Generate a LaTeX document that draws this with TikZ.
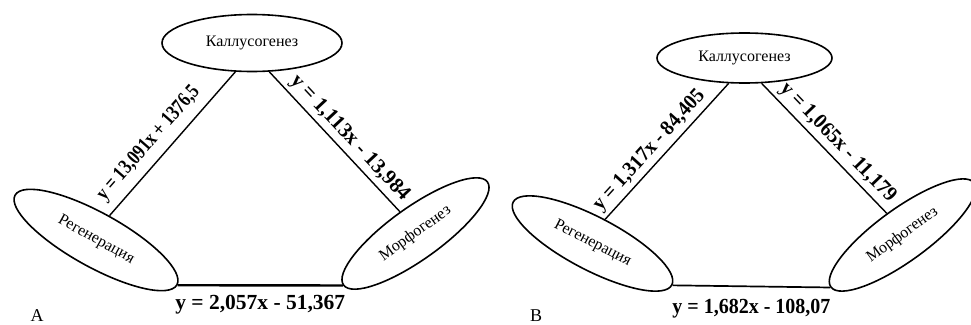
\documentclass[tikz,border=0pt]{standalone}
\usepackage{fontspec}
\setmainfont{Liberation Serif}
\usetikzlibrary{shapes.geometric}
\begin{document}
\begin{tikzpicture}[x=1pt,y=-1pt,
  oval/.style={ellipse, draw, line width=1.6pt, inner sep=0pt, font=\fontsize{16}{16}\selectfont},
  link/.style={line width=1.4pt},
  base/.style={line width=2.4pt},
  eq/.style={font=\bfseries\fontsize{21}{21}\selectfont, inner sep=1pt, sloped, above=2.5pt},
  beq/.style={font=\bfseries\fontsize{21.5}{21.5}\selectfont, inner sep=1pt},
  panel/.style={font=\fontsize{18}{18}\selectfont, inner sep=0pt}
]
\useasboundingbox (0,0) rectangle (971,324);
% Panel A
\node[oval, minimum width=180, minimum height=57] (k) at (252,43) {Каллусогенез};
\node[oval, minimum width=185, minimum height=54, rotate=-29] (r) at (96,240) {Регенерация};
\node[oval, minimum width=177, minimum height=52, rotate=35.6] (m) at (415.5,233.5) {Морфогенез};
\draw[link] (r.north) -- node[eq, above=4.5pt, pos=.42] {\scalebox{0.8}[1]{y = 13,091x + 1376,5}} (k.240);
\draw[link] (k.301) -- node[eq, pos=.54] {y = 1,113x - 13,984} (m.north);
\draw[base] (r.east) -- node[beq, below=8pt, pos=.5] {y = 2,057x - 51,367} (m.west);
\node[panel] (la) at (37,316) {A};
% Panel B
\node[oval, minimum width=175, minimum height=50] (k2) at (744.5,58) {Каллусогенез};
\node[oval, minimum width=179, minimum height=53, rotate=-27.6] (r2) at (592.5,243.5) {Регенерация};
\node[oval, minimum width=177, minimum height=52, rotate=36] (m2) at (902.5,235) {Морфогенез};
\draw[link] (r2.north) -- node[eq, pos=.44] {\scalebox{0.94}[1]{y = 1,317x - 84,405}} (k2.238);
\draw[link] (k2.304) -- node[eq, pos=.53] {\scalebox{0.96}[1]{y = 1,065x - 11,179}} (m2.north);
\draw[link, line width=1.7pt] (r2.east) -- node[beq, below=11pt, pos=.5] {\scalebox{0.93}[1]{y = 1,682x - 108,07}} (m2.west);
\node[panel] (lb) at (536,316) {B};
\end{tikzpicture}
\end{document}
